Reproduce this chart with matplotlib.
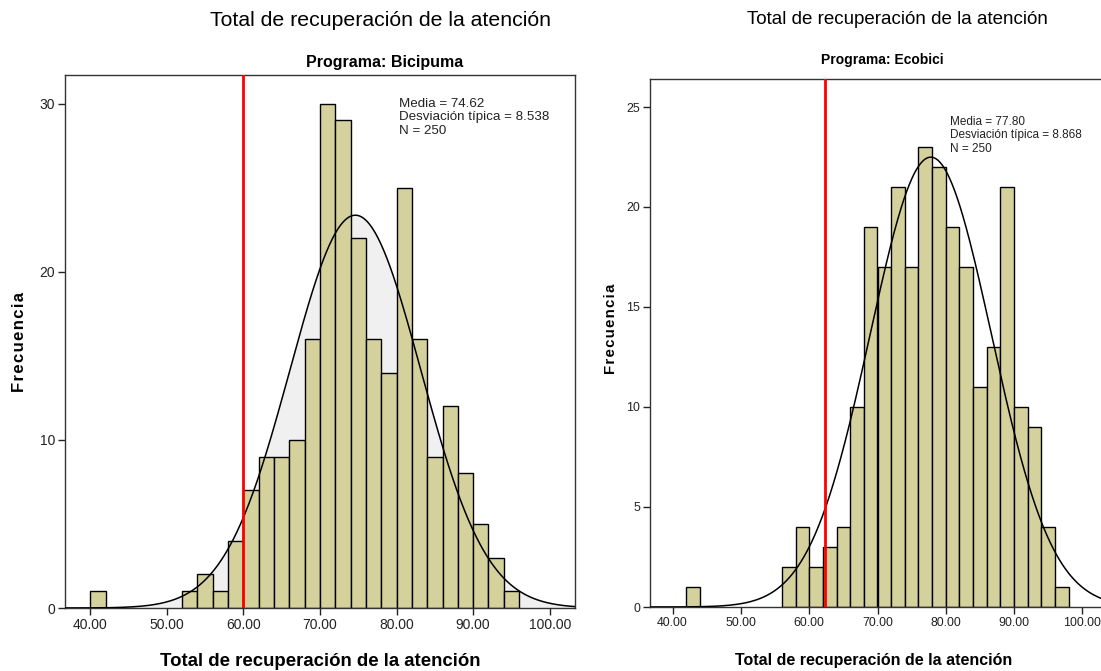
import numpy as np
import matplotlib
matplotlib.use('Agg')
import matplotlib.pyplot as plt

plt.rcParams['font.family'] = ['Liberation Sans', 'DejaVu Sans']

# bins of width 2
bici_edges = np.arange(40, 98, 2)
bici_counts = [1, 0, 0, 0, 0, 0, 1, 2, 1, 4, 7, 9, 9, 10, 16, 30, 29, 22, 16, 14,
               25, 16, 9, 12, 8, 5, 3, 1]
bici_mean, bici_sd, bici_n = 74.62, 8.538, 250
bici_cut = 60.0

eco_edges = np.arange(42, 100, 2)
eco_counts = [1, 0, 0, 0, 0, 0, 0, 2, 4, 2, 3, 4, 10, 19, 17, 21, 17, 23, 22, 19,
              17, 11, 13, 21, 10, 9, 4, 1]
eco_mean, eco_sd, eco_n = 77.80, 8.868, 250
eco_cut = 62.3

xticks = [40, 50, 60, 70, 80, 90, 100]
bar_color = '#d5d19d'

fig = plt.figure(figsize=(11.01, 6.71), dpi=100)


def hist_panel(ax, edges, counts, mean, sd, n, cut, ylim, yticks, fill, fs):
    edges = np.asarray(edges)[:len(counts)]
    x = np.linspace(30, 110, 600)
    curve = n * 2 / (sd * np.sqrt(2 * np.pi)) * np.exp(-0.5 * ((x - mean) / sd) ** 2)
    if fill:
        ax.fill_between(x, 0, curve, color='#f0f0f0', zorder=1)
    for e, c in zip(edges, counts):
        if c > 0:
            ax.bar(e, c, width=2, align='edge', color=bar_color,
                   edgecolor='black', linewidth=1.0, zorder=2)
    ax.plot(x, curve, color='black', linewidth=1.1, zorder=3)
    ax.axvline(cut, color='#ff0000', linewidth=2, zorder=4)
    ax.set_xlim(36.7, 103.3)
    ax.set_ylim(*ylim)
    ax.set_xticks(xticks)
    ax.set_xticklabels(['%.2f' % t for t in xticks], fontsize=fs)
    ax.set_yticks(yticks)
    ax.set_yticklabels([str(t) for t in yticks], fontsize=fs)
    ax.tick_params(length=5, width=1, pad=2, colors='#222222')
    for s in ax.spines.values():
        s.set_color('#333333')
        s.set_linewidth(1)


ax1 = fig.add_axes([65 / 1101, 1 - 608 / 671, 510 / 1101, 533 / 671])
hist_panel(ax1, bici_edges, bici_counts, bici_mean, bici_sd, bici_n, bici_cut,
           (0, 31.7), [0, 10, 20, 30], True, 10)
ax1.text(0.655, 0.957, 'Media = %.2f\nDesviación típica = %.3f\nN = %d' % (bici_mean, bici_sd, bici_n),
         transform=ax1.transAxes, fontsize=9.6, va='top', linespacing=1.17, color='#222222')

ax2 = fig.add_axes([650 / 1101, 1 - 607 / 671, 455 / 1101, 528 / 671])
hist_panel(ax2, eco_edges, eco_counts, eco_mean, eco_sd, eco_n, eco_cut,
           (0, 26.4), [0, 5, 10, 15, 20, 25], False, 8.9)
ax2.text(0.66, 0.93, 'Media = %.2f\nDesviación típica = %.3f\nN = %d' % (eco_mean, eco_sd, eco_n),
         transform=ax2.transAxes, fontsize=8.5, va='top', linespacing=1.17, color='#222222')

# titles and labels
fig.text(380 / 1101, 1 - 20 / 671, 'Total de recuperación de la atención',
         ha='center', va='center', fontsize=15.3)
fig.text(385 / 1101, 1 - 62 / 671, 'Programa: Bicipuma',
         ha='center', va='center', fontsize=11.5, fontweight='bold')
fig.text(897 / 1101, 1 - 20 / 671, 'Total de recuperación de la atención',
         ha='center', va='center', fontsize=13.5)
fig.text(882 / 1101, 1 - 60 / 671, 'Programa: Ecobici',
         ha='center', va='center', fontsize=10, fontweight='bold')

fig.text(320 / 1101, 1 - 662 / 671, 'Total de recuperación de la atención',
         ha='center', va='center', fontsize=13.4, fontweight='bold')
fig.text(874 / 1101, 1 - 661 / 671, 'Total de recuperación de la atención',
         ha='center', va='center', fontsize=11.5, fontweight='bold')

fig.text(20 / 1101, 1 - 342 / 671, '\u200a'.join('Frecuencia'),
         rotation=90, ha='center', va='center', fontsize=12, fontweight='bold')
fig.text(611 / 1101, 1 - 329 / 671, '\u200a'.join('Frecuencia'),
         rotation=90, ha='center', va='center', fontsize=10.8, fontweight='bold')

fig.savefig('out.png', dpi=100)
